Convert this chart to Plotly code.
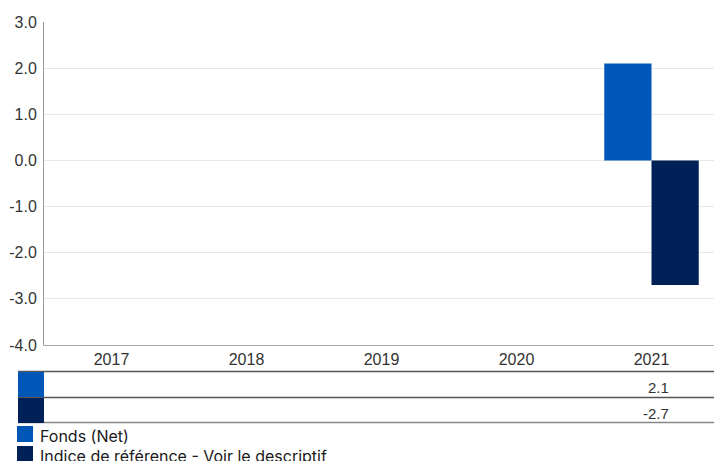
import plotly.graph_objects as go

years = ["2017", "2018", "2019", "2020", "2021"]
series_names = ["Fonds (Net)", "Indice de référence - Voir le descriptif"]
fonds_values = [None, None, None, None, 2.1]
indice_values = [None, None, None, None, -2.7]
series_values = [fonds_values, indice_values]
series_colors = ["#0057b8", "#002157"]
y_ticks = [3, 2, 1, 0, -1, -2, -3, -4]

W, H = 714, 461
L, R, T, B = 44, 0, 22, 116
PW, PH = W - L - R, H - T - B
CAT = 135.0

def px(xp):
    return (xp - L) / PW

def py(yp):
    return (H - B - yp) / PH

fig = go.Figure()
for name, vals, col in zip(series_names, series_values, series_colors):
    fig.add_trace(go.Bar(x=years, y=vals, name=name, marker=dict(color=col, line=dict(width=0)),
                         showlegend=False, hoverinfo="skip"))

shapes = []
annotations = []
# table lines
shapes.append(dict(type="line", xref="paper", yref="paper", x0=px(18), x1=px(714), y0=py(371.5), y1=py(371.5),
                   line=dict(color="#555555", width=1.5)))
shapes.append(dict(type="line", xref="paper", yref="paper", x0=px(18), x1=px(714), y0=py(397.5), y1=py(397.5),
                   line=dict(color="#555555", width=1.5)))
shapes.append(dict(type="line", xref="paper", yref="paper", x0=px(18), x1=px(714), y0=py(422.5), y1=py(422.5),
                   line=dict(color="#888888", width=1.5)))
row_tops = [372, 398]
for r, (name, vals, col) in enumerate(zip(series_names, series_values, series_colors)):
    y0 = row_tops[r]
    shapes.append(dict(type="rect", xref="paper", yref="paper", x0=px(18), x1=px(44), y0=py(y0 + 25), y1=py(y0),
                       fillcolor=col, line=dict(width=0)))
    for i, v in enumerate(vals):
        if v is None:
            continue
        cx = L + (i + 0.5) * CAT + 19
        annotations.append(dict(xref="paper", yref="paper", x=px(cx), y=py(y0 + 15.5), text=f"{v:.1f}",
                                showarrow=False, xanchor="right", yanchor="middle",
                                font=dict(family="Liberation Sans, Arial", size=15, color="#333333")))
    # legend
    ly = 426 + r * 20
    shapes.append(dict(type="rect", xref="paper", yref="paper", x0=px(17), x1=px(33), y0=py(ly + 16), y1=py(ly),
                       fillcolor=col, line=dict(width=0)))
    annotations.append(dict(xref="paper", yref="paper", x=px(38), y=py(ly + 9.5), text=name,
                            showarrow=False, xanchor="left", yanchor="middle",
                            font=dict(family="Inter", size=16, color="#1a1a1a")))

fig.update_layout(
    width=W, height=H,
    margin=dict(l=L, r=R, t=T, b=B, pad=0),
    plot_bgcolor="white", paper_bgcolor="white",
    barmode="group", bargap=0.3, bargroupgap=0,
    shapes=shapes, annotations=annotations,
    showlegend=False,
)
fig.update_xaxes(type="category", range=[-0.5, -0.5 + PW / CAT], showgrid=False, showline=True,
                 linecolor="#aaaaaa", linewidth=1, ticks="", ticklabelstandoff=0,
                 tickfont=dict(family="Liberation Sans, Arial", size=16, color="#333333"))
fig.update_yaxes(range=[-4, 3], tickvals=y_ticks, ticktext=[f"{v:.1f}" for v in y_ticks],
                 showgrid=True, gridcolor="#e8e8e8",
                 zeroline=False, showline=True, linecolor="#999999", linewidth=1, ticks="",
                 ticklabelstandoff=3,
                 tickfont=dict(family="Liberation Sans, Arial", size=16, color="#333333"))

fig.write_html("out.html", config={"displayModeBar": False, "staticPlot": True},
               post_script="document.body.style.margin='0';document.body.style.overflow='hidden';")
